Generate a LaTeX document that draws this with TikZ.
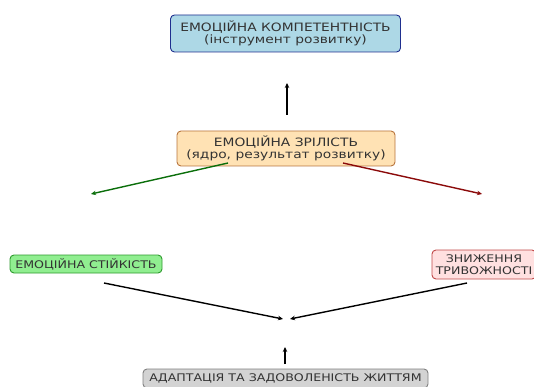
\documentclass[tikz,border=0pt]{standalone}
\usepackage{fontspec}
\setmainfont{DejaVu Sans}[FakeStretch=1.2]
\usetikzlibrary{arrows.meta}
\definecolor{txt}{HTML}{333333}
\definecolor{bluefill}{HTML}{ADD8E6}
\definecolor{blueedge}{HTML}{1F2F8F}
\definecolor{orfill}{HTML}{FFE2B4}
\definecolor{oredge}{HTML}{B8743C}
\definecolor{grfill}{HTML}{90EE90}
\definecolor{gredge}{HTML}{2E9A2E}
\definecolor{rdfill}{HTML}{FFE0E0}
\definecolor{rdedge}{HTML}{C04848}
\definecolor{gyfill}{HTML}{D3D3D3}
\definecolor{gyedge}{HTML}{808080}
\definecolor{darkgr}{HTML}{0A6E0A}
\definecolor{darkrd}{HTML}{8B0A0A}
\tikzset{
  box/.style={draw, rounded corners=4pt, line width=0.9pt, inner sep=0pt, align=center,
    text=txt, font=\fontsize{10.5}{11.5}\selectfont},
  bigbox/.style={box, font=\fontsize{11.5}{12}\selectfont},
  conn/.style={line width=1.4pt, -{Stealth[length=5pt,width=4.5pt]}},
}
\begin{document}
\begin{tikzpicture}[x=1pt,y=-1pt]
\useasboundingbox (0,0) rectangle (534,387);
\node[bigbox, fill=bluefill, draw=blueedge, minimum width=230pt, minimum height=37pt] (comp) at (285.5,33.5) {ЕМОЦІЙНА КОМПЕТЕНТНІСТЬ\\(інструмент розвитку)};
\node[bigbox, fill=orfill, draw=oredge, minimum width=218pt, minimum height=35pt] (mat) at (286,148.5) {ЕМОЦІЙНА ЗРІЛІСТЬ\\(ядро, результат розвитку)};
\node[box, fill=grfill, draw=gredge, minimum width=152pt, minimum height=18pt] (stab) at (86,264) {ЕМОЦІЙНА СТІЙКІСТЬ};
\node[box, fill=rdfill, draw=rdedge, minimum width=104pt, minimum height=29pt] (anx) at (484,264.5) {ЗНИЖЕННЯ\\ТРИВОЖНОСТІ};
\node[box, fill=gyfill, draw=gyedge, minimum width=285pt, minimum height=19pt] (adapt) at (285.5,378.5) {АДАПТАЦІЯ ТА ЗАДОВОЛЕНІСТЬ ЖИТТЯМ};
% arrow end points (free ends)
\coordinate (upS) at (287,115);
\coordinate (upE) at (287,83);
\coordinate (gS) at (228,163);
\coordinate (gE) at (91,194);
\coordinate (rS) at (343,163);
\coordinate (rE) at (482,194);
\coordinate (lS) at (104,283);
\coordinate (lE) at (283,319);
\coordinate (riS) at (467,283);
\coordinate (riE) at (290,319);
\coordinate (bS) at (285,364);
\coordinate (bE) at (285,347);
\draw[conn] (upS) -- (upE);
\draw[conn, darkgr] (gS) -- (gE);
\draw[conn, darkrd] (rS) -- (rE);
\draw[conn, black] (lS) -- (lE);
\draw[conn, black] (riS) -- (riE);
\draw[conn] (bS) -- (bE);
\end{tikzpicture}
\end{document}
